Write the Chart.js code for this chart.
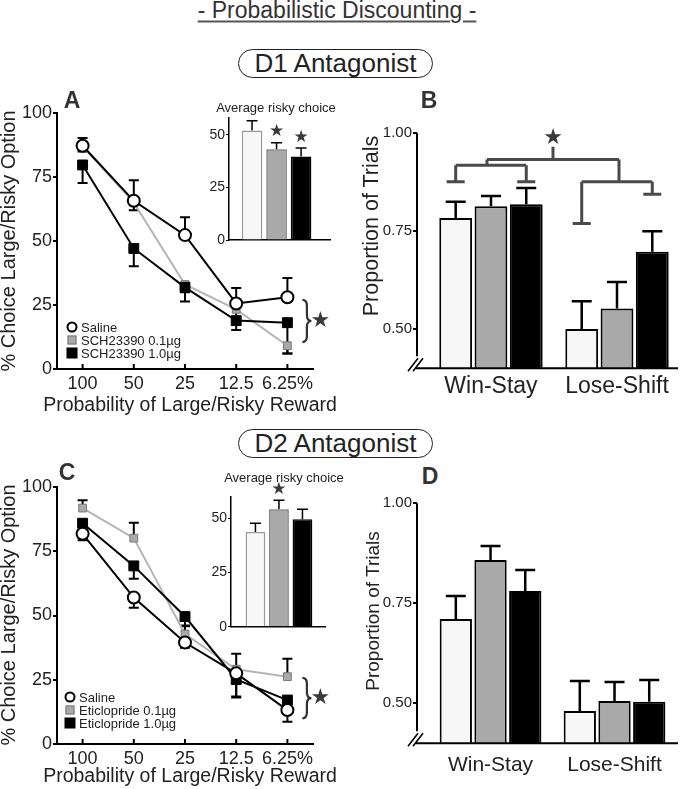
<!DOCTYPE html>
<html>
<head>
<meta charset="utf-8">
<script src="https://cdn.jsdelivr.net/npm/chart.js@4.4.1/dist/chart.umd.min.js"></script>
<style>
  body { margin: 0; background: #fff; font-family: 'Liberation Sans', Arial, sans-serif; color: #222; }
  #page { position: relative; width: 685px; height: 789px; overflow: hidden; background: #fff; }
  canvas { position: absolute; }
  .t { position: absolute; white-space: nowrap; line-height: 1; }
  .pill { position: absolute; border: 1.5px solid #222; border-radius: 15px; box-sizing: border-box;
          display: flex; align-items: center; justify-content: center; font-size: 26px; color: #222; }
  .mk { position: absolute; box-sizing: border-box; transform: translate(-50%, -50%); }
</style>
</head>
<body>
<div id="page"></div>
<script>
// reward probabilities on the x axis of the choice curves
const probLabels = ['100', '50', '25', '12.5', '6.25%'];

// D1 antagonist (SCH23390), % choice of large/risky option
const d1Saline = [87.2, 65.7, 52.3, 25.6, 28.0];
const d1SalineErr = [3, 8, 7, 6, 7.5];
const d1Low = [87.0, 65.0, 33.0, 23.3, 9.1];
const d1LowErr = [2, 3, 3, 3, 3];
const d1High = [79.7, 47.1, 31.9, 18.9, 18.1];
const d1HighErr = [7, 7, 5.5, 3.7, 12];

// D2 antagonist (eticlopride)
const d2Saline = [81.8, 57.0, 39.5, 27.5, 13.2];
const d2SalineErr = [2.5, 4, 2, 9, 4.5];
const d2Low = [91.8, 80.1, 42.8, 29.1, 26.2];
const d2LowErr = [3, 6, 3, 6, 7];
const d2High = [85.9, 69.3, 49.6, 25.1, 17.1];
const d2HighErr = [3, 5, 3.5, 7, 3];

// inset: average risky choice (saline, 0.1, 1.0)
const d1Avg = [52.0, 43.2, 39.7];
const d1AvgErr = [4.7, 3.0, 4.0];
const d1AvgSig = [false, true, true];
const d2Avg = [43.7, 54.2, 49.6];
const d2AvgErr = [4.0, 4.2, 4.6];
const d2AvgSig = [false, true, false];

// win-stay / lose-shift proportions
const strategyLabels = ['Win-Stay', 'Lose-Shift'];
const d1StratSaline = [0.783, 0.500];
const d1StratSalineErr = [0.041, 0.071];
const d1StratLow = [0.813, 0.552];
const d1StratLowErr = [0.026, 0.068];
const d1StratHigh = [0.818, 0.697];
const d1StratHighErr = [0.041, 0.052];
const d2StratSaline = [0.711, 0.481];
const d2StratSalineErr = [0.057, 0.075];
const d2StratLow = [0.858, 0.506];
const d2StratLowErr = [0.035, 0.047];
const d2StratHigh = [0.781, 0.504];
const d2StratHighErr = [0.052, 0.054];

Chart.defaults.font.family = "'Liberation Sans', Arial, sans-serif";
Chart.defaults.color = '#222';

const page = document.getElementById('page');
const FILL = ['#f7f7f7', '#a9a9a9', '#000000'];

function text(str, x, y, size, o = {}) {
  const d = document.createElement('div');
  d.className = 't';
  d.textContent = str;
  d.style.left = x + 'px';
  d.style.top = y + 'px';
  d.style.fontSize = size + 'px';
  if (o.bold) d.style.fontWeight = 'bold';
  if (o.color) d.style.color = o.color;
  d.style.transform = o.left ? 'translate(0,-50%)' : 'translate(-50%,-50%)' + (o.rot ? ' rotate(-90deg)' : '');
  page.appendChild(d);
  return d;
}

function marker(x, y, kind) {
  const m = document.createElement('div');
  m.className = 'mk';
  m.style.left = x + 'px';
  m.style.top = y + 'px';
  if (kind === 'circle') {
    m.style.cssText += 'width:11px;height:11px;border:2px solid #000;border-radius:50%;background:#fff;';
  } else if (kind === 'gray') {
    m.style.cssText += 'width:9px;height:9px;border:1px solid #777;background:#a9a9a9;';
  } else {
    m.style.cssText += 'width:11px;height:11px;background:#000;';
  }
  page.appendChild(m);
}

// canvas placed at rect, chart area pinned to area
function makeCanvas(rect) {
  const c = document.createElement('canvas');
  c.width = rect.w;
  c.height = rect.h;
  c.style.left = rect.x + 'px';
  c.style.top = rect.y + 'px';
  page.appendChild(c);
  return c;
}
function pin(rect, area) {
  return {
    padding: { left: 0, top: area.t - rect.y, right: rect.x + rect.w - area.r, bottom: 0 },
    yW: area.l - rect.x,
    xH: rect.y + rect.h - area.b
  };
}

function star(ctx, x, y, size) {
  ctx.save();
  ctx.fillStyle = '#3a3a3a';
  ctx.font = size + 'px "DejaVu Sans"';
  ctx.textAlign = 'center';
  ctx.textBaseline = 'middle';
  ctx.fillText('\u2605', x, y);
  ctx.restore();
}

const errorBars = {
  id: 'errorBars',
  beforeDatasetsDraw(chart) {
    const ctx = chart.ctx;
    const ys = chart.scales.y;
    chart.data.datasets.forEach((ds, i) => {
      if (!ds.err) return;
      const meta = chart.getDatasetMeta(i);
      ctx.save();
      ctx.strokeStyle = '#000';
      ctx.lineWidth = ds.errWidth || 2;
      meta.data.forEach((el, j) => {
        const v = ds.data[j];
        const val = v !== null && typeof v === 'object' ? v.y : v;
        const e = ds.err[j];
        const top = ds.errDir === 'down' ? val : val + e;
        const bot = ds.errDir === 'up' ? val : val - e;
        const yt = ys.getPixelForValue(top), yb = ys.getPixelForValue(bot);
        const c = (ds.capW || 10) / 2;
        ctx.beginPath();
        ctx.moveTo(el.x, yt);
        ctx.lineTo(el.x, yb);
        if (ds.errDir !== 'down') { ctx.moveTo(el.x - c, yt); ctx.lineTo(el.x + c, yt); }
        if (ds.errDir !== 'up') { ctx.moveTo(el.x - c, yb); ctx.lineTo(el.x + c, yb); }
        ctx.stroke();
      });
      ctx.restore();
    });
  }
};

const sigStars = {
  id: 'sigStars',
  afterDatasetsDraw(chart) {
    const ys = chart.scales.y;
    chart.data.datasets.forEach((ds, i) => {
      if (!ds.sig) return;
      chart.getDatasetMeta(i).data.forEach((el, j) => {
        if (!ds.sig[j]) return;
        const top = ys.getPixelForValue(ds.data[j].y + ds.err[j]);
        star(chart.ctx, el.x, top - 11, 17);
      });
    });
  }
};

const innerTicks = {
  id: 'innerTicks',
  afterDraw(chart) {
    const { ctx, chartArea, scales: { x } } = chart;
    ctx.save();
    ctx.strokeStyle = '#000';
    ctx.lineWidth = 2;
    chart.data.labels.forEach((_, i) => {
      const px = x.getPixelForValue(i);
      ctx.beginPath();
      ctx.moveTo(px, chartArea.bottom);
      ctx.lineTo(px, chartArea.bottom - 5);
      ctx.stroke();
    });
    ctx.restore();
  }
};

const sideBrace = {
  id: 'sideBrace',
  afterDraw(chart, args, o) {
    const { ctx, scales: { x, y } } = chart;
    const bx = x.getPixelForValue(chart.data.labels.length - 1) + 15;
    const y1 = y.getPixelForValue(o.from), y2 = y.getPixelForValue(o.to);
    const w = 9, r = 6, ym = (y1 + y2) / 2, mx = bx + w / 2;
    ctx.save();
    ctx.strokeStyle = '#333';
    ctx.lineWidth = 2.2;
    ctx.beginPath();
    ctx.moveTo(bx, y1);
    ctx.quadraticCurveTo(mx, y1, mx, y1 + r);
    ctx.lineTo(mx, ym - r);
    ctx.quadraticCurveTo(mx, ym, bx + w, ym);
    ctx.quadraticCurveTo(mx, ym, mx, ym + r);
    ctx.lineTo(mx, y2 - r);
    ctx.quadraticCurveTo(mx, y2, bx, y2);
    ctx.stroke();
    ctx.restore();
    star(ctx, bx + w + 9, ym, 22);
  }
};

const brokenAxes = {
  id: 'brokenAxes',
  afterDraw(chart) {
    const { ctx, chartArea: a } = chart;
    ctx.save();
    ctx.strokeStyle = '#000';
    ctx.lineWidth = 2;
    ctx.beginPath();
    ctx.moveTo(a.left, a.top);
    ctx.lineTo(a.left, a.bottom - 12);
    ctx.moveTo(a.left - 1, a.bottom);
    ctx.lineTo(a.right, a.bottom);
    ctx.stroke();
    ctx.lineWidth = 1.6;
    ctx.beginPath();
    for (const dx of [-4, 1]) {
      ctx.moveTo(a.left + dx - 5, a.bottom + 3);
      ctx.lineTo(a.left + dx + 5, a.bottom - 10);
    }
    ctx.stroke();
    ctx.restore();
  }
};

// comparison bracket over panel B
const bracket = {
  id: 'bracket',
  afterDatasetsDraw(chart, args, o) {
    const { ctx, scales: { y } } = chart;
    const py = v => y.getPixelForValue(v);
    const m = i => chart.getDatasetMeta(i).data;
    const ws0 = m(0)[0].x, ws1 = m(2)[0].x, ls0 = m(0)[1].x, ls1 = m(2)[1].x;
    const lm = (ws0 + ws1) / 2 - 4, rm = (ls0 + ls1) / 2 + 2, sx = (lm + rm) / 2;
    const cap = 9;
    ctx.save();
    ctx.strokeStyle = '#4a4a4a';
    ctx.lineWidth = 3;
    ctx.beginPath();
    const seg = (x1, y1, x2, y2) => { ctx.moveTo(x1, py(y1)); ctx.lineTo(x2, py(y2)); };
    seg(ws0 - cap, o.wsCap, ws0 + cap, o.wsCap);
    seg(ws0, o.wsCap, ws0, o.wsBar);
    seg(ws1 - cap, o.wsCap, ws1 + cap, o.wsCap);
    seg(ws1, o.wsCap, ws1, o.wsBar);
    seg(ws0, o.wsBar, ws1, o.wsBar);
    seg(lm, o.wsBar, lm, o.top);
    seg(lm, o.top, rm, o.top);
    seg(rm, o.top, rm, o.lsBar);
    seg(ls0, o.lsBar, ls1, o.lsBar);
    seg(ls0, o.lsBar, ls0, o.lsCap0);
    seg(ls0 - cap, o.lsCap0, ls0 + cap, o.lsCap0);
    seg(ls1, o.lsBar, ls1, o.lsCap1);
    seg(ls1 - cap, o.lsCap1, ls1 + cap, o.lsCap1);
    seg(sx, o.top, sx, o.stem);
    ctx.stroke();
    ctx.restore();
    star(ctx, sx, py(o.stem) - 9, 22);
  }
};

function lineSet(data, err, kind, dir, order) {
  const base = { data, err, errDir: dir, capW: 10, errWidth: 2, order, tension: 0, clip: false };
  if (kind === 'circle') {
    return Object.assign(base, { borderColor: '#000', borderWidth: 2, pointStyle: 'circle', pointRadius: 6,
      pointBackgroundColor: '#fff', pointBorderColor: '#000', pointBorderWidth: 2 });
  }
  if (kind === 'gray') {
    return Object.assign(base, { borderColor: '#b5b5b5', borderWidth: 2, pointStyle: 'rect', pointRadius: 5.5,
      pointBackgroundColor: '#a9a9a9', pointBorderColor: '#7a7a7a', pointBorderWidth: 1 });
  }
  return Object.assign(base, { borderColor: '#000', borderWidth: 2, pointStyle: 'rect', pointRadius: 7,
    pointBackgroundColor: '#000', pointBorderColor: '#000', pointBorderWidth: 1 });
}

function choiceChart(rect, area, sets, brace) {
  const p = pin(rect, area);
  return new Chart(makeCanvas(rect), {
    type: 'line',
    data: { labels: probLabels, datasets: sets },
    plugins: [errorBars, innerTicks, sideBrace],
    options: {
      responsive: false, animation: false, devicePixelRatio: 1,
      layout: { padding: p.padding, autoPadding: false },
      plugins: { legend: { display: false }, tooltip: { enabled: false }, sideBrace: brace },
      scales: {
        x: {
          type: 'category', offset: true,
          grid: { display: false, drawTicks: false },
          border: { display: true, color: '#000', width: 2 },
          ticks: { font: { size: 18 }, padding: 4, maxRotation: 0, autoSkip: false, color: '#222' },
          afterFit: s => { s.height = p.xH; }
        },
        y: {
          min: 0, max: 100,
          grid: { drawOnChartArea: false, tickLength: 4, color: '#000', lineWidth: 2 },
          border: { display: true, color: '#000', width: 2 },
          ticks: { stepSize: 25, font: { size: 18 }, padding: 1, color: '#222' },
          afterFit: s => { s.width = p.yW; }
        }
      }
    }
  });
}

function avgChart(rect, area, vals, errs, sig, xmin, xmax, ymax) {
  const p = pin(rect, area);
  return new Chart(makeCanvas(rect), {
    type: 'bar',
    data: {
      datasets: [{
        data: vals.map((y, i) => ({ x: i + 1, y })),
        backgroundColor: FILL, borderColor: ['#999', '#6f6f6f', '#000'], borderWidth: 1.5,
        categoryPercentage: 1, barPercentage: 0.84,
        err: errs, errDir: 'up', capW: 11, errWidth: 1.5, sig
      }]
    },
    plugins: [errorBars, sigStars],
    options: {
      responsive: false, animation: false, devicePixelRatio: 1,
      layout: { padding: p.padding, autoPadding: false },
      plugins: { legend: { display: false }, tooltip: { enabled: false } },
      scales: {
        x: {
          type: 'linear', min: xmin, max: xmax, offset: false,
          grid: { display: false, drawTicks: false },
          border: { display: true, color: '#000', width: 1.5 },
          ticks: { display: false, stepSize: 1, includeBounds: false },
          afterFit: s => { s.height = p.xH; }
        },
        y: {
          min: 0, max: ymax,
          grid: { drawOnChartArea: false, tickLength: 3, color: '#000', lineWidth: 1 },
          border: { display: true, color: '#000', width: 1.5 },
          ticks: { stepSize: 25, includeBounds: false, font: { size: 14 }, padding: 1, color: '#222' },
          afterFit: s => { s.width = p.yW; }
        }
      }
    }
  });
}

function stratChart(rect, area, vals, errs, xmin, xmax, labelSize, labelPad, extra) {
  const p = pin(rect, area);
  const sets = vals.map((v, k) => ({
    data: v.map((y, i) => ({ x: i + 1, y })),
    backgroundColor: FILL[k], borderColor: '#000', borderWidth: 2,
    categoryPercentage: 0.84, barPercentage: 0.93,
    err: errs[k], errDir: 'up', capW: 20, errWidth: 2.5
  }));
  return new Chart(makeCanvas(rect), {
    type: 'bar',
    data: { datasets: sets },
    plugins: [errorBars, brokenAxes].concat(extra ? [bracket] : []),
    options: {
      responsive: false, animation: false, devicePixelRatio: 1,
      layout: { padding: p.padding, autoPadding: false },
      plugins: { legend: { display: false }, tooltip: { enabled: false }, bracket: extra || {} },
      scales: {
        x: {
          type: 'linear', min: xmin, max: xmax, offset: false,
          grid: { display: false, drawTicks: false },
          border: { display: false },
          ticks: { stepSize: 1, includeBounds: false, autoSkip: false, maxRotation: 0,
                   callback: v => strategyLabels[Math.round(v) - 1] || '',
                   font: { size: labelSize }, padding: labelPad, color: '#222' },
          afterFit: s => { s.height = p.xH; }
        },
        y: {
          min: 0.4, max: 1.0,
          grid: { drawOnChartArea: false, tickLength: 4, color: '#000', lineWidth: 2 },
          border: { display: false },
          ticks: { stepSize: 0.25, includeBounds: false, callback: v => v.toFixed(2),
                   font: { size: 15 }, padding: 1, color: '#222' },
          afterFit: s => { s.width = p.yW; }
        }
      }
    }
  });
}

// ---- headings ----
const head = text('- Probabilistic Discounting -', 337, 10, 23, { color: '#333' });
head.style.textDecoration = 'underline';
head.style.textDecorationColor = '#555';
head.style.textUnderlineOffset = '3px';

function pill(str, top) {
  const d = document.createElement('div');
  d.className = 'pill';
  d.textContent = str;
  d.style.left = '238px';
  d.style.top = top + 'px';
  d.style.width = '195px';
  d.style.height = '29px';
  page.appendChild(d);
}
pill('D1 Antagonist', 49);
pill('D2 Antagonist', 429);

// ---- panel A ----
choiceChart({ x: 0, y: 90, w: 330, h: 310 }, { l: 57, t: 113, r: 313, b: 369 }, [
  lineSet(d1Saline, d1SalineErr, 'circle', 'up', 0),
  lineSet(d1Low, d1LowErr, 'gray', 'down', 2),
  lineSet(d1High, d1HighErr, 'black', 'down', 1)
], { from: 27, to: 10.5 });
avgChart({ x: 195, y: 105, w: 140, h: 145 }, { l: 229, t: 118, r: 330, b: 240 },
  d1Avg, d1AvgErr, d1AvgSig, 0.06, 4.18, 58);

// ---- panel B ----
stratChart({ x: 350, y: 118, w: 335, h: 282 }, { l: 417, t: 132.7, r: 678, b: 368.3 },
  [d1StratSaline, d1StratLow, d1StratHigh], [d1StratSalineErr, d1StratLowErr, d1StratHighErr],
  0.413, 2.484, 23, 5,
  { wsCap: 0.875, wsBar: 0.917, top: 0.932, lsBar: 0.875, lsCap0: 0.769, lsCap1: 0.843, stem: 0.964 });

// ---- panel C ----
choiceChart({ x: 0, y: 470, w: 330, h: 300 }, { l: 57, t: 487, r: 313, b: 744 }, [
  lineSet(d2Saline, d2SalineErr, 'circle', 'down', 0),
  lineSet(d2Low, d2LowErr, 'gray', 'up', 2),
  lineSet(d2High, d2HighErr, 'black', 'down', 1)
], { from: 25.7, to: 10 });
avgChart({ x: 195, y: 478, w: 140, h: 160 }, { l: 231, t: 496.7, r: 325.5, b: 626.7 },
  d2Avg, d2AvgErr, d2AvgSig, -0.04, 3.98, 60);

// ---- panel D ----
stratChart({ x: 350, y: 490, w: 335, h: 295 }, { l: 417, t: 503.3, r: 678, b: 743.3 },
  [d2StratSaline, d2StratLow, d2StratHigh], [d2StratSalineErr, d2StratLowErr, d2StratHighErr],
  0.407, 2.512, 21, 9, null);

// ---- labels ----
text('A', 72, 100, 23, { bold: true, color: '#333' });
text('B', 429, 100, 23, { bold: true, color: '#333' });
text('C', 67, 472, 23, { bold: true, color: '#333' });
text('D', 430, 476, 23, { bold: true, color: '#333' });

text('% Choice Large/Risky Option', 8, 241, 20, { rot: true });
text('% Choice Large/Risky Option', 8, 615, 20, { rot: true });
text('Proportion of Trials', 372, 226, 21.5, { rot: true });
text('Proportion of Trials', 372, 611, 19, { rot: true });
text('Probability of Large/Risky Reward', 190, 405, 19.5);
text('Probability of Large/Risky Reward', 190, 776, 19.5);
text('Average risky choice', 276, 107, 13);
text('Average risky choice', 284, 477, 13);

// legends
const d1Names = ['Saline', 'SCH23390 0.1\u00b5g', 'SCH23390 1.0\u00b5g'];
const d2Names = ['Saline', 'Eticlopride 0.1\u00b5g', 'Eticlopride 1.0\u00b5g'];
const kinds = ['circle', 'gray', 'black'];
[327, 340, 353].forEach((y, i) => { marker(72, y, kinds[i]); text(d1Names[i], 81, y, 13, { left: true }); });
[697, 710, 723].forEach((y, i) => { marker(70, y, kinds[i]); text(d2Names[i], 79, y, 13, { left: true }); });
</script>
</body>
</html>
